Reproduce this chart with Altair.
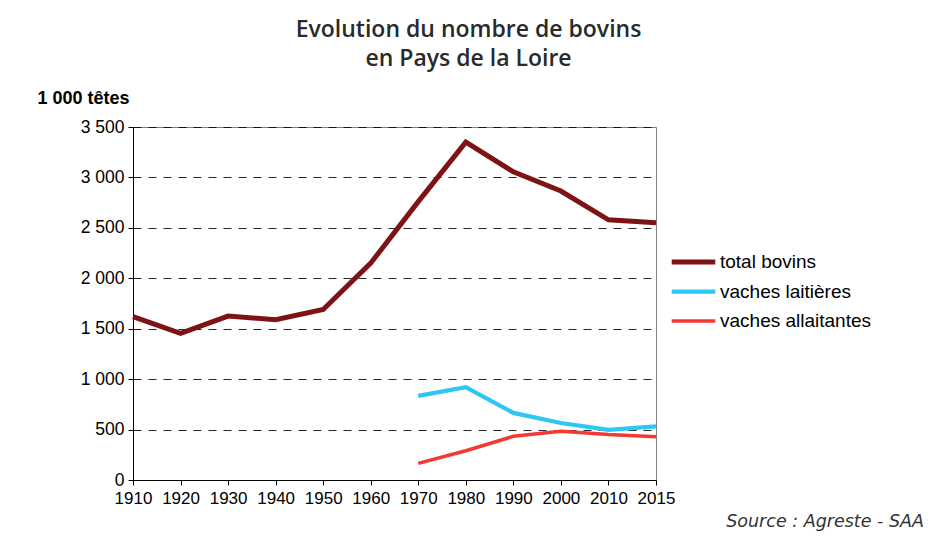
import altair as alt
import pandas as pd

years = ["1910", "1920", "1930", "1940", "1950", "1960", "1970", "1980", "1990", "2000", "2010", "2015"]
total_bovins = [1620, 1455, 1625, 1590, 1690, 2150, 2760, 3350, 3055, 2865, 2580, 2550]
lait_years = ["1970", "1980", "1990", "2000", "2010", "2015"]
vaches_laitieres = [835, 920, 665, 565, 497, 532]
vaches_allaitantes = [165, 290, 433, 483, 450, 430]
series = ["total bovins", "vaches laitières", "vaches allaitantes"]
colors = ["#7d1315", "#2ec6f4", "#f23a33"]
widths = [5, 3.5, 3.5]

rows = []
for y, v in zip(years, total_bovins):
    rows.append({"annee": y, "valeur": v, "serie": series[0]})
for y, v in zip(lait_years, vaches_laitieres):
    rows.append({"annee": y, "valeur": v, "serie": series[1]})
for y, v in zip(lait_years, vaches_allaitantes):
    rows.append({"annee": y, "valeur": v, "serie": series[2]})
df = pd.DataFrame(rows)

legend = alt.Legend(
    title=None, orient="none", legendX=536, legendY=125, symbolType="stroke",
    symbolSize=1900, labelFont="Liberation Sans", labelFontSize=19,
    labelColor="#000", labelOffset=2, clipHeight=20, rowPadding=9.5, padding=0
)

lines = alt.Chart(df).mark_line().encode(
    x=alt.X("annee:O", sort=years, scale=alt.Scale(type="point", padding=0),
            axis=alt.Axis(title=None, labelAngle=0, labelFont="Liberation Sans", labelFontSize=17,
                          labelColor="#000", tickColor="#000", domainColor="#000", tickSize=5,
                          labelPadding=5, grid=False, labelOverlap=False)),
    y=alt.Y("valeur:Q", scale=alt.Scale(domain=[0, 3500], nice=False),
            axis=alt.Axis(values=[0, 500, 1000, 1500, 2000, 2500, 3000, 3500],
                          labelExpr="replace(format(datum.value, ','), /,/g, ' ')",
                          labelFont="Liberation Sans", labelFontSize=17.5, labelColor="#000",
                          tickColor="#000", domainColor="#000", tickSize=5, labelPadding=4,
                          grid=True, gridDash=[8, 7], gridColor="#000", gridOpacity=0.85,
                          title="1 000 têtes", titleAngle=0, titleAlign="left", titleX=-96, titleY=-29,
                          titleFont="Liberation Sans", titleFontSize=18, titleFontWeight="bold",
                          titleColor="#000", titleBaseline="middle")),
    color=alt.Color("serie:N", sort=series, scale=alt.Scale(domain=series, range=colors), legend=legend),
    strokeWidth=alt.StrokeWidth("serie:N", sort=series, scale=alt.Scale(domain=series, range=widths), legend=legend),
    order=alt.Order("annee:O"),
)

source = alt.Chart(pd.DataFrame({"t": ["Source : Agreste - SAA"]})).mark_text(
    align="right", baseline="alphabetic", font="DejaVu Sans", fontStyle="italic", fontSize=17.5, color="#333"
).encode(text="t:N", x=alt.value(791), y=alt.value(400))

chart = alt.layer(lines, source).properties(
    width=523, height=353,
    title=alt.TitleParams(["Evolution du nombre de bovins", "en Pays de la Loire"], anchor="middle",
                          font="Open Sans", fontSize=23, fontWeight=600, color="#2a2a2a",
                          dx=74, dy=-14, lineHeight=29),
    autosize=alt.AutoSizeParams(type="none"),
    padding={"left": 125, "top": 119, "right": 269, "bottom": 52},
).configure_view(stroke="#808080", strokeWidth=1)

chart.save("out.html", embed_options={"renderer": "svg", "actions": False})
